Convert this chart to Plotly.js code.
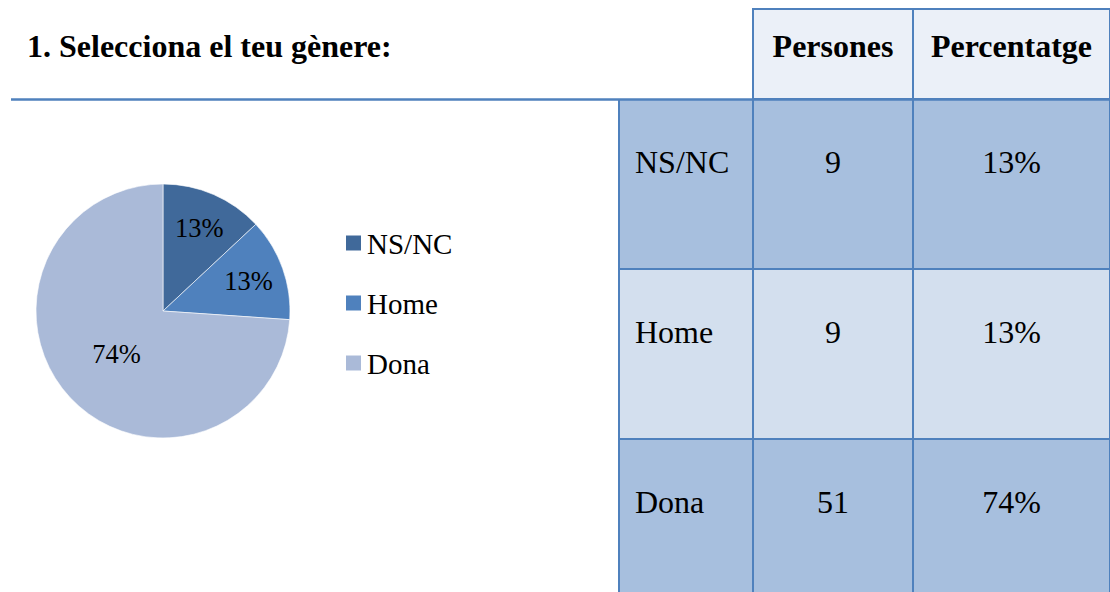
<!DOCTYPE html>
<html>
<head>
<meta charset="utf-8">
<script src="https://cdn.plot.ly/plotly-3.0.1.min.js"></script>
<style>
  html, body { margin: 0; padding: 0; background: #ffffff; }
  #chart { width: 1110px; height: 592px; }
  .scrollbar-kit, .scrollbar-glyph { display: none !important; }
</style>
</head>
<body>
<div id="chart"></div>
<script>
// ---- data ----
const titleText = '1. Selecciona el teu gènere:';
const categories = ['NS/NC', 'Home', 'Dona'];
const persons = [9, 9, 51];
const percentages = ['13%', '13%', '74%'];
const headerLabels = ['', 'Persones', 'Percentatge'];

// ---- styles ----
const sliceColors = ['#40699A', '#4F81BD', '#AABAD8'];
const border = '#4F81BD';
const rowDark = '#A7BFDE';
const rowLight = '#D3DFEE';
const headerFill = '#EBF0F8';
const clear = 'rgba(0,0,0,0)';
const serif = 'Liberation Serif';

const W = 1110, H = 592;
const px = x => x / W;
const py = y => 1 - y / H;

const pie = {
  type: 'pie',
  labels: categories,
  values: persons,
  sort: false,
  direction: 'clockwise',
  rotation: 0,
  marker: { colors: sliceColors, line: { color: '#ffffff', width: 0.6 } },
  texttemplate: '%{percent:.0%}',
  textposition: 'inside',
  insidetextorientation: 'horizontal',
  textfont: { family: serif, size: 26.5, color: '#000000' },
  hoverinfo: 'label+value+percent',
  domain: { x: [px(36), px(290)], y: [py(438), py(184)] },
  showlegend: false
};

const rowFills = categories.map((c, i) => (i % 2 === 0 ? rowDark : rowLight));
const nb = '\u00a0';
const colWidths = [134, 160, 197];
const tableX = [px(619), 1];

// table grid: fills and borders
const tableGrid = {
  type: 'table',
  domain: { x: tableX, y: [0, py(9)] },
  columnwidth: colWidths,
  header: {
    values: headerLabels.map(() => ''),
    height: 90,
    fill: { color: ['#ffffff', headerFill, headerFill] },
    line: { color: ['#ffffff', border, border], width: 2 },
    font: { family: serif, size: 32, color: '#000000' }
  },
  cells: {
    values: [categories.map(() => ''), persons.map(() => ''), percentages.map(() => '')],
    height: 170,
    fill: { color: [rowFills, rowFills, rowFills] },
    line: { color: border, width: 2 },
    font: { family: serif, size: 32, color: '#000000' }
  }
};

// table text, laid over the grid (lowered so the text sits like the reference)
const tableText = {
  type: 'table',
  domain: { x: tableX, y: [0, py(25)] },
  columnwidth: colWidths,
  header: {
    values: headerLabels,
    align: ['left', 'center', 'center'],
    height: 116,
    fill: { color: clear },
    line: { color: clear, width: 0 },
    font: { family: serif, size: 32, color: '#000000', weight: 'bold' }
  },
  cells: {
    values: [categories.map(c => nb + c), persons, percentages],
    align: ['left', 'center', 'center'],
    height: 170,
    fill: { color: clear },
    line: { color: clear, width: 0 },
    font: { family: serif, size: 32, color: '#000000' }
  }
};

const annotations = [{
  xref: 'paper', yref: 'paper',
  x: px(24.5), y: py(46.5), xanchor: 'left', yanchor: 'middle',
  text: '<b>' + titleText + '</b>', showarrow: false,
  font: { family: serif, size: 32, color: '#000000' }
}];
const shapes = [{
  type: 'line', xref: 'paper', yref: 'paper', layer: 'above',
  x0: px(11), x1: 1, y0: py(99.5), y1: py(99.5),
  line: { color: border, width: 2.5 }
}];

// legend built from categories and colours
categories.forEach((c, i) => {
  const cy = 243 + i * 60;
  shapes.push({
    type: 'rect', xref: 'paper', yref: 'paper',
    x0: px(346), x1: px(361), y0: py(cy + 7.5), y1: py(cy - 7.5),
    fillcolor: sliceColors[i], line: { width: 0 }
  });
  annotations.push({
    xref: 'paper', yref: 'paper',
    x: px(365), y: py(cy + 0.5), xanchor: 'left', yanchor: 'middle',
    text: c, showarrow: false,
    font: { family: serif, size: 29, color: '#000000' }
  });
});

const layout = {
  width: W, height: H,
  margin: { l: 0, r: 0, t: 0, b: 0, pad: 0 },
  paper_bgcolor: '#ffffff',
  plot_bgcolor: '#ffffff',
  showlegend: false,
  annotations: annotations,
  shapes: shapes
};

Plotly.newPlot('chart', [pie, tableGrid, tableText], layout, { displayModeBar: false, staticPlot: true });
</script>
</body>
</html>
